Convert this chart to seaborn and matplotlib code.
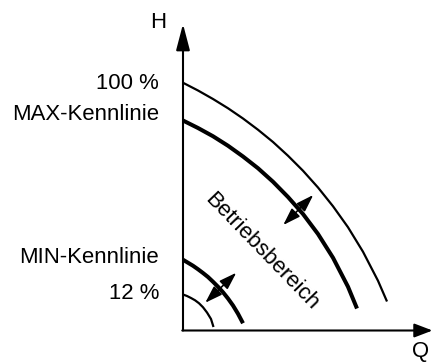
import matplotlib
matplotlib.use("Agg")
import pandas as pd
import seaborn as sns
import matplotlib.pyplot as plt

# pump curves (Q, H in same arbitrary units)
q_100 = [0, 6, 12, 18, 24, 30, 36, 42, 48, 54, 60, 66, 72, 78, 81.6]
h_100 = [99.1, 96.0, 92.6, 88.9, 84.8, 80.3, 75.4, 69.9, 63.9, 57.2, 49.7, 41.3, 31.5, 19.9, 11.6]

q_max = [0, 6, 12, 18, 24, 30, 36, 42, 48, 54, 60, 66, 69.6]
h_max = [84.0, 81.0, 77.7, 73.9, 69.6, 64.9, 59.5, 53.4, 46.6, 38.6, 29.1, 17.5, 8.8]

q_min = [0, 2, 4, 6, 8, 10, 12, 14, 16, 18, 20, 22, 24]
h_min = [28.3, 27.1, 25.9, 24.5, 23.0, 21.4, 19.5, 17.5, 15.3, 12.8, 10.0, 6.7, 2.9]

q_12 = [0, 1.6, 3.2, 4.8, 6.4, 8.0, 9.6, 11.2, 12.2]
h_12 = [14.4, 13.8, 13.0, 12.1, 10.9, 9.3, 7.2, 4.6, 1.4]

# double arrows across the MAX and MIN curves (start Q/H, end Q/H)
arrow_max = [40.1, 42.2, 52.1, 54.2]
arrow_min = [8.9, 11.1, 21.3, 23.1]

curve_labels = ["100 %", "MAX-Kennlinie", "MIN-Kennlinie", "12 %"]

sns.set_theme(style="white")
plt.rcParams["font.family"] = ["Liberation Sans", "DejaVu Sans"]

frames = []
for name, q, h in [("100", q_100, h_100), ("max", q_max, h_max),
                   ("min", q_min, h_min), ("12", q_12, h_12)]:
    frames.append(pd.DataFrame({"curve": name, "Q": q, "H": h}))
df = pd.concat(frames, ignore_index=True)

widths = {"100": 1.6, "max": 2.9, "min": 2.9, "12": 1.6}

fig = plt.figure(figsize=(4.33, 3.62), dpi=100)
ax = fig.add_axes([183 / 433, 31.5 / 362, 250 / 433, 307.5 / 362])

for name, lw in widths.items():
    sub = df[df["curve"] == name]
    sns.lineplot(data=sub, x="Q", y="H", color="black", linewidth=lw,
                 estimator=None, sort=False, ax=ax, legend=False,
                 solid_capstyle="butt", solid_joinstyle="round")

ax.set_xlim(0, 100)
ax.set_ylim(0, 123)
ax.axis("off")

# axes with arrow heads
ax.annotate("", xy=(0, 122.6), xytext=(0, 0),
            arrowprops=dict(arrowstyle="-|>,head_length=1.6,head_width=0.42",
                            mutation_scale=10, lw=1.5, color="black",
                            shrinkA=0, shrinkB=0), annotation_clip=False)
ax.annotate("", xy=(99.8, 0), xytext=(-0.3, 0),
            arrowprops=dict(arrowstyle="-|>,head_length=1.1,head_width=0.42",
                            mutation_scale=10, lw=1.5, color="black",
                            shrinkA=0, shrinkB=0), annotation_clip=False)

for a in (arrow_max, arrow_min):
    ax.annotate("", xy=(a[2], a[3]), xytext=(a[0], a[1]),
                arrowprops=dict(arrowstyle="<|-|>,head_length=1.05,head_width=0.35",
                                mutation_scale=10, lw=1.2, color="black",
                                shrinkA=0, shrinkB=0))

fs = 15.9
label_h = [96.7, 84.2, 27.1, 12.7]
for txt, hy in zip(curve_labels, label_h):
    ax.text(-9.5, hy, txt, ha="right", va="baseline", fontsize=fs, color="black")

ax.text(-6.9, 120.9, "H", ha="right", va="baseline", fontsize=fs, color="black")
ax.text(95.0, -10.8, "Q", ha="center", va="baseline", fontsize=fs, color="black")

ax.text(31.6, 31.4, "Betriebsbereich", ha="center", va="center", rotation=-46,
        rotation_mode="anchor", fontsize=fs, color="black")

fig.savefig("out.png", dpi=100, facecolor="white")
